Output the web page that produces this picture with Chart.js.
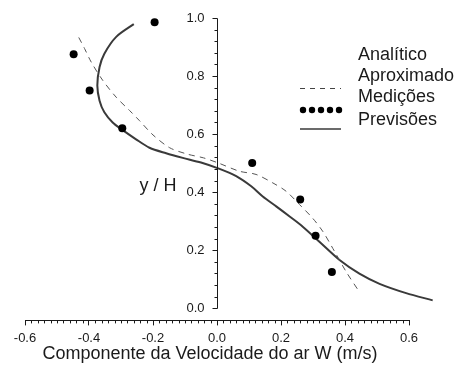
<!DOCTYPE html>
<html><head><meta charset="utf-8">
<script src="https://cdn.jsdelivr.net/npm/chart.js@4/dist/chart.umd.min.js"></script>
<style>html,body{margin:0;padding:0;background:#fff}#wrap{width:461px;height:368px}</style>
</head><body><div id="wrap"><canvas id="c" width="461" height="368"></canvas></div>
<script>
// ---- data ----
const xTickValues = [-0.6, -0.4, -0.2, 0.0, 0.2, 0.4, 0.6];
const yTickValues = [0.0, 0.2, 0.4, 0.6, 0.8, 1.0];
const legendLabels = ["Analítico", "Aproximado", "Medições", "Previsões"];
const xTitle = "Componente da Velocidade do ar W (m/s)";
const yTitle = "y / H";

// Medições (measurements)
const medX = [-0.195, -0.448, -0.398, -0.296, 0.110, 0.260, 0.308, 0.359];
const medY = [0.985, 0.875, 0.750, 0.620, 0.500, 0.375, 0.250, 0.125];

// Previsões (predictions, solid)
const prevX = [-0.260, -0.315, -0.352, -0.367, -0.374, -0.367, -0.352, -0.326, -0.299, -0.253, -0.211, -0.159, -0.107, -0.050, 0.008, 0.060, 0.107, 0.143, 0.185, 0.227, 0.268, 0.320, 0.383, 0.445, 0.508, 0.591, 0.674];
const prevY = [0.979, 0.935, 0.877, 0.831, 0.767, 0.715, 0.675, 0.640, 0.617, 0.582, 0.553, 0.534, 0.518, 0.502, 0.480, 0.455, 0.420, 0.385, 0.351, 0.316, 0.281, 0.229, 0.166, 0.119, 0.084, 0.052, 0.027];

// Analítico Aproximado (dashed)
const aproxX = [-0.432, -0.414, -0.393, -0.357, -0.315, -0.273, -0.242, -0.200, -0.148, -0.093, -0.042, 0.005, 0.070, 0.122, 0.174, 0.216, 0.258, 0.299, 0.331, 0.362, 0.404, 0.445];
const aproxY = [0.933, 0.895, 0.848, 0.785, 0.727, 0.681, 0.646, 0.597, 0.553, 0.531, 0.518, 0.500, 0.472, 0.461, 0.432, 0.403, 0.357, 0.310, 0.264, 0.206, 0.125, 0.056];

const pts = (xs, ys) => xs.map((x, i) => ({x: x, y: ys[i]}));
const FONT = '"Liberation Sans", Arial, sans-serif';
const INK = '#1a1a1a';

const decorPlugin = {
  id: 'decor',
  afterDraw(chart) {
    const ctx = chart.ctx, xs = chart.scales.x, ys = chart.scales.y, ca = chart.chartArea;
    const x0 = Math.round(xs.getPixelForValue(0)) + 0.5;
    ctx.save();
    ctx.strokeStyle = INK; ctx.lineWidth = 1;
    // y axis line from 0 to 1, with major and minor ticks
    ctx.beginPath();
    ctx.moveTo(x0, Math.round(ys.getPixelForValue(0)) + 0.5);
    ctx.lineTo(x0, Math.round(ys.getPixelForValue(1)) + 0.5);
    for (let k = 0; k <= 25; k++) {
      const py = Math.round(ys.getPixelForValue(k * 0.04)) + 0.5;
      const len = (k % 5 === 0) ? 5 : 3;
      ctx.moveTo(x0, py); ctx.lineTo(x0 - len, py);
    }
    // minor ticks x
    for (let k = -30; k <= 30; k++) {
      if (k % 10 === 0) continue;
      const px = Math.round(xs.getPixelForValue(k * 0.02)) + 0.5;
      ctx.moveTo(px, ca.bottom); ctx.lineTo(px, ca.bottom + 3);
    }
    ctx.stroke();
    ctx.fillStyle = INK;
    // y tick labels
    ctx.font = '13px ' + FONT;
    ctx.textAlign = 'right'; ctx.textBaseline = 'middle';
    yTickValues.forEach(v => ctx.fillText(v.toFixed(1), x0 - 13, ys.getPixelForValue(v)));
    // x title
    ctx.font = '18px ' + FONT;
    ctx.textAlign = 'center';
    ctx.fillText(xTitle, 210, 354);
    // y title
    ctx.fillText(yTitle, 158, 186);
    // legend
    ctx.textAlign = 'left';
    const lx = 358;
    ctx.fillText(legendLabels[0], lx, 55);
    ctx.fillText(legendLabels[1], lx, 76);
    ctx.fillText(legendLabels[2], lx, 97);
    ctx.fillText(legendLabels[3], lx, 120);
    // legend symbols
    ctx.strokeStyle = '#444'; ctx.lineWidth = 1; ctx.setLineDash([5, 5]);
    ctx.beginPath(); ctx.moveTo(300, 88.5); ctx.lineTo(341, 88.5); ctx.stroke();
    ctx.setLineDash([]);
    ctx.fillStyle = '#000';
    for (let i = 0; i < 5; i++) {
      ctx.beginPath(); ctx.arc(303 + i * 9, 110, 3.2, 0, Math.PI * 2); ctx.fill();
    }
    ctx.strokeStyle = '#3a3a3a'; ctx.lineWidth = 1.5;
    ctx.beginPath(); ctx.moveTo(300, 129); ctx.lineTo(341, 129); ctx.stroke();
    ctx.restore();
  }
};

new Chart(document.getElementById('c'), {
  type: 'scatter',
  data: {
    datasets: [
      { label: legendLabels[0] + ' ' + legendLabels[1], data: pts(aproxX, aproxY), showLine: true,
        borderColor: '#555', borderWidth: 1, borderDash: [6, 5], pointRadius: 0, tension: 0.3, clip: false },
      { label: legendLabels[2], data: pts(medX, medY), showLine: false,
        pointRadius: 4, pointBackgroundColor: '#000', pointBorderColor: '#000', pointBorderWidth: 0, clip: false },
      { label: legendLabels[3], data: pts(prevX, prevY), showLine: true,
        borderColor: '#3a3a3a', borderWidth: 2, pointRadius: 0, tension: 0.3, clip: false }
    ]
  },
  options: {
    responsive: false, animation: false, devicePixelRatio: 1,
    layout: { padding: { left: 25, right: 52, top: 18, bottom: 17 } },
    plugins: { legend: { display: false }, tooltip: { enabled: false } },
    scales: {
      x: {
        type: 'linear', position: 'bottom', min: -0.6, max: 0.6,
        afterBuildTicks: s => { s.ticks = xTickValues.map(v => ({value: v})); },
        ticks: { color: INK, font: { family: FONT, size: 13 }, padding: 5, maxRotation: 0,
                 callback: v => Number(v).toFixed(1) },
        grid: { drawOnChartArea: false, drawTicks: true, tickLength: 5, tickColor: INK },
        border: { display: true, color: INK, width: 1 },
        title: { display: false }
      },
      y: {
        type: 'linear', position: { x: 0 }, min: -0.042, max: 1.0,
        afterBuildTicks: s => { s.ticks = yTickValues.map(v => ({value: v})); },
        ticks: { display: false },
        grid: { display: false },
        border: { display: false }
      }
    }
  },
  plugins: [decorPlugin]
});
</script></body></html>
